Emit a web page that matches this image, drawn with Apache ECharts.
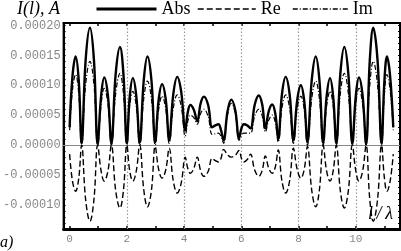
<!DOCTYPE html>
<html><head><meta charset="utf-8">
<script src="https://cdn.jsdelivr.net/npm/echarts@6/dist/echarts.min.js"></script>
<style>html,body{margin:0;padding:0;background:#fff}#c{width:401px;height:251px}</style>
</head><body><div id="c"></div>
<script>
// x positions (l/lambda) along the curves
const xPos = [
 0.00,0.10,0.21,0.32, 0.42,0.56,0.71,0.85, 0.98,1.10,1.21,1.34, 1.46,1.61,1.76,1.88,
 2.00,2.10,2.21,2.33, 2.45,2.59,2.72,2.86, 2.99,3.11,3.23,3.36, 3.48,3.62,3.76,3.90,
 4.04,4.13,4.22,4.34, 4.46,4.58,4.69,4.84, 4.98,5.09,5.20,5.29, 5.38,5.52,5.65,5.79,
 5.92,6.01,6.09,6.21, 6.32,6.47,6.61,6.73, 6.84,6.96,7.08,7.19, 7.29,7.42,7.55,7.69,
 7.82,7.95,8.08,8.20, 8.31,8.46,8.60,8.73, 8.86,8.98,9.10,9.21, 9.32,9.46,9.60,9.74,
 9.88,10.00,10.11,10.24, 10.36,10.49,10.61,10.76, 10.90,11.00,11.09,11.20, 11.31];
const absVals = [
 30e-6,115e-6,148e-6,107e-6, 3e-6,142e-6,196e-6,142e-6, 2e-6,82e-6,113e-6,82e-6, 3e-6,119e-6,164e-6,119e-6,
 3e-6,81e-6,112e-6,82e-6, 4e-6,108e-6,148e-6,108e-6, 5e-6,75e-6,102e-6,76e-6, 8e-6,84e-6,114e-6,89e-6,
 25e-6,55e-6,67e-6,59e-6, 40e-6,70e-6,81e-6,67e-6, 30e-6,33e-6,35e-6,25e-6, 8e-6,57e-6,76e-6,58e-6,
 12e-6,29e-6,35e-6,33e-6, 28e-6,68e-6,83e-6,68e-6, 28e-6,57e-6,68e-6,52e-6, 10e-6,85e-6,114e-6,84e-6,
 8e-6,74e-6,100e-6,73e-6, 5e-6,108e-6,148e-6,108e-6, 4e-6,81e-6,112e-6,81e-6, 3e-6,119e-6,164e-6,119e-6,
 3e-6,82e-6,113e-6,82e-6, 2e-6,142e-6,196e-6,142e-6, 3e-6,107e-6,148e-6,115e-6, 30e-6];
const reVals = [
 -15e-6,-60e-6,-77e-6,-55e-6, 0,-91e-6,-127e-6,-91e-6, 0,-43e-6,-60e-6,-43e-6, 0,-76e-6,-105e-6,-76e-6,
 0,-43e-6,-60e-6,-43e-6, 0,-74e-6,-103e-6,-75e-6, -2e-6,-40e-6,-55e-6,-41e-6, -5e-6,-59e-6,-80e-6,-63e-6,
 -20e-6,-39e-6,-47e-6,-39e-6, -20e-6,-43e-6,-52e-6,-44e-6, -22e-6,-26e-6,-28e-6,-22e-6, -7e-6,-16e-6,-20e-6,-17e-6,
 -9e-6,-23e-6,-28e-6,-24e-6, -15e-6,-42e-6,-52e-6,-42e-6, -18e-6,-39e-6,-47e-6,-36e-6, -8e-6,-60e-6,-80e-6,-59e-6,
 -5e-6,-40e-6,-55e-6,-40e-6, -2e-6,-75e-6,-103e-6,-74e-6, 0,-43e-6,-60e-6,-43e-6, 0,-76e-6,-105e-6,-76e-6,
 0,-43e-6,-60e-6,-43e-6, 0,-91e-6,-127e-6,-91e-6, 0,-55e-6,-77e-6,-60e-6, -15e-6];
const imVals = [
 25e-6,92e-6,118e-6,85e-6, 0,101e-6,140e-6,101e-6, 0,68e-6,95e-6,68e-6, 0,86e-6,120e-6,86e-6,
 0,65e-6,90e-6,65e-6, 0,77e-6,107e-6,77e-6, 0,59e-6,82e-6,60e-6, 3e-6,61e-6,84e-6,65e-6,
 15e-6,40e-6,50e-6,46e-6, 35e-6,53e-6,60e-6,48e-6, 18e-6,19e-6,20e-6,15e-6, 3e-6,51e-6,70e-6,53e-6,
 8e-6,17e-6,20e-6,20e-6, 20e-6,49e-6,60e-6,49e-6, 22e-6,42e-6,50e-6,37e-6, 5e-6,62e-6,84e-6,61e-6,
 3e-6,60e-6,82e-6,59e-6, 0,77e-6,107e-6,77e-6, 0,65e-6,90e-6,65e-6, 0,86e-6,120e-6,86e-6,
 0,68e-6,95e-6,68e-6, 0,101e-6,140e-6,101e-6, 0,85e-6,118e-6,92e-6, 25e-6];
const seriesNames = ['Abs','Re','Im'];
const xTickLabels = [0,2,4,6,8,10];
const xMinorTicks = [0,1,2,3,4,5,6,7,8,9,10,11];
const yTickLabels = [-0.0001,-0.00005,0,0.00005,0.0001,0.00015,0.0002];
const xGrid = [2,4,6,8,10];
const yGrid = [-0.0001,-0.00005,0.00005,0.0001,0.00015];

const yMinorTicks = [];
for (let i = -14; i <= 20; i++) yMinorTicks.push(i * 1e-5);

const XMIN = -0.21, XMAX = 11.545, YMIN = -0.00014, YMAX = 0.000204;
const mono = 'Liberation Mono';
const serif = 'Liberation Serif';

const pts = v => xPos.map((x, i) => [x, v[i]]);
const chart = echarts.init(document.getElementById('c'), null, {renderer: 'canvas'});

const xAx = (pos, lab) => ({
  type: 'value', position: pos, min: XMIN, max: XMAX, gridIndex: 0,
  axisLine: {show: true, onZero: false, lineStyle: {color: '#000', width: pos === 'bottom' ? 3 : 2}},
  axisTick: {show: true, inside: true, length: 3, customValues: xMinorTicks, lineStyle: {color: '#000', width: 1.5}},
  axisLabel: {show: lab, customValues: xTickLabels, color: '#888', fontFamily: mono, fontSize: 11, margin: 5,
    formatter: v => String(v)},
  splitLine: {show: false}
});
const yAx = (pos, lab, ticks, len) => ({
  type: 'value', position: pos, min: YMIN, max: YMAX, gridIndex: 0,
  axisLine: {show: true, onZero: false, lineStyle: {color: '#000', width: 2}},
  axisTick: {show: true, inside: true, length: len, customValues: ticks, lineStyle: {color: '#000', width: 1.2}},
  axisLabel: {show: lab, customValues: yTickLabels, color: '#888', fontFamily: mono, fontSize: 12, margin: 3,
    formatter: v => v.toFixed(5)},
  splitLine: {show: false}
});

const legendCommon = {top: 0, padding: 0, itemHeight: 16, selectedMode: false,
  itemStyle: {color: 'rgba(0,0,0,0)', borderColor: 'rgba(0,0,0,0)', borderWidth: 0, opacity: 0},
  textStyle: {fontFamily: serif, fontSize: 18, color: '#000'}};

chart.setOption({
  animation: false,
  backgroundColor: '#fff',
  grid: {left: 63, right: 1, top: 23, bottom: 22, show: true, borderColor: '#000', borderWidth: 2},
  xAxis: [xAx('bottom', true), xAx('top', false)],
  yAxis: [yAx('left', true, yMinorTicks, 2), yAx('right', false, yMinorTicks, 2)],
  legend: [
    Object.assign({}, legendCommon, {left: 95, itemWidth: 60, data: ['Abs'], lineStyle: {width: 3, color: '#000'}}),
    Object.assign({}, legendCommon, {left: 197, itemWidth: 58, data: ['Re'], lineStyle: {width: 1.5, color: '#000'}}),
    Object.assign({}, legendCommon, {left: 292, itemWidth: 55, data: ['Im'], lineStyle: {width: 1.5, color: '#000'}})
  ],
  graphic: [
    {type: 'text', left: 17, top: 0, style: {text: 'I(l), A', font: 'italic 18px "Liberation Serif"', fill: '#000'}},
    {type: 'text', left: 0, top: 235, style: {text: 'a)', font: 'italic 16px "Liberation Serif"', fill: '#000'}},
    {type: 'text', left: 368, top: 205, z: 10, style: {text: 'l\u2009/\u2009λ', font: 'italic 18px "Liberation Serif"', fill: '#000'}}
  ],
  series: [
    {type: 'line', name: '', data: [], silent: true, z: 1,
      markLine: {silent: true, z: 1, symbol: ['none', 'none'], label: {show: false},
        lineStyle: {color: '#999', type: [1.5, 2], width: 1.2},
        data: xGrid.map(v => ({xAxis: v})).concat(yGrid.map(v => ({yAxis: v})))
          .concat([{yAxis: 0, lineStyle: {type: 'solid', color: '#888', width: 1}}])}},
    {type: 'line', name: seriesNames[2], data: pts(imVals), symbol: 'none', smooth: 0.4, z: 2,
      itemStyle: {color: '#000'}, lineStyle: {color: '#000', width: 1.2, type: [5, 2, 1, 2]}},
    {type: 'line', name: seriesNames[1], data: pts(reVals), symbol: 'none', smooth: 0.4, z: 3,
      itemStyle: {color: '#000'}, lineStyle: {color: '#000', width: 1.4, type: [6, 3]}},
    {type: 'line', name: seriesNames[0], data: pts(absVals), symbol: 'none', smooth: 0.4, z: 4,
      itemStyle: {color: '#000'}, lineStyle: {color: '#000', width: 2.4}}
  ]
});
</script>
</body></html>
